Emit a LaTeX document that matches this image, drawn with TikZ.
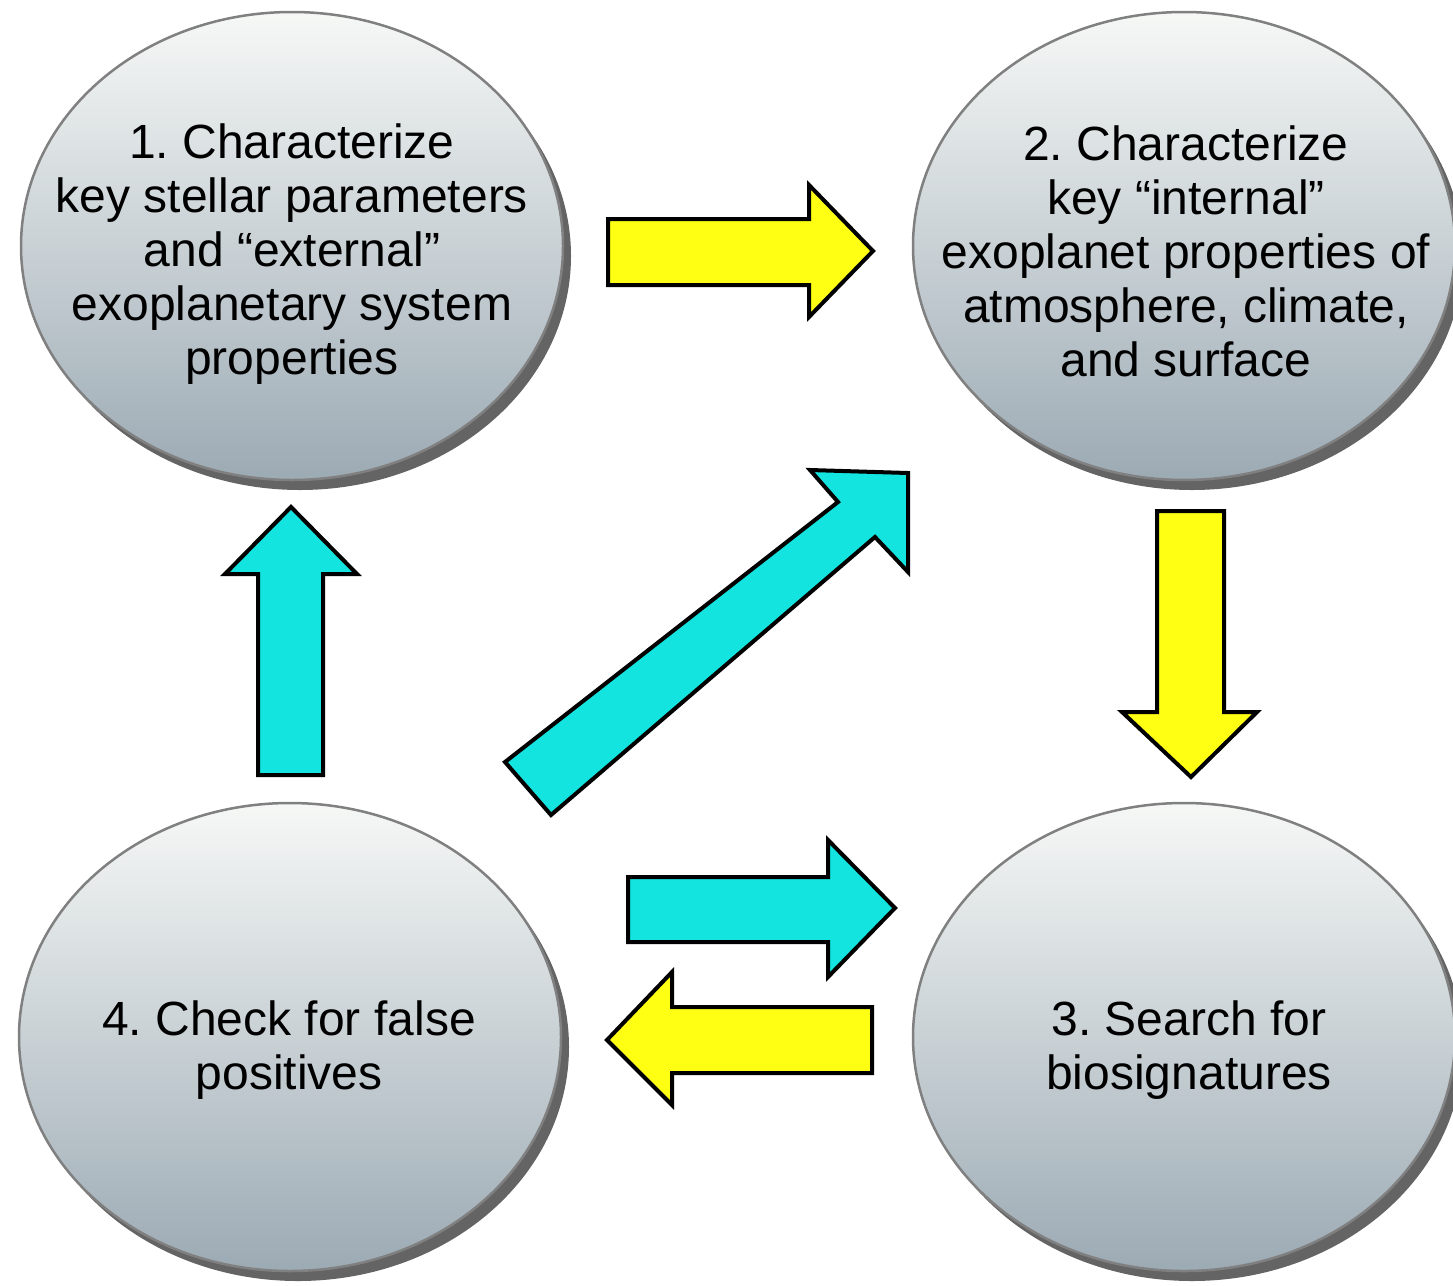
\documentclass[tikz,border=0pt]{standalone}
\usepackage{fontspec}
\setmainfont{Liberation Sans}
\usetikzlibrary{shapes.geometric,shadows}
\definecolor{ellTop}{RGB}{246,248,246}
\definecolor{ellBot}{RGB}{156,170,180}
\definecolor{ellEdge}{RGB}{128,128,128}
\definecolor{ellShadow}{RGB}{100,100,100}
\definecolor{arrYellow}{RGB}{255,255,20}
\definecolor{arrCyan}{RGB}{20,228,224}
\tikzset{
  stage/.style={ellipse, minimum width=542pt, minimum height=468pt, inner sep=0pt,
    top color=ellTop, bottom color=ellBot, draw=ellEdge, line width=2.5pt,
    drop shadow={shadow xshift=8pt, shadow yshift=-10pt, fill=ellShadow, opacity=1}},
  stagetext/.style={align=center, inner sep=0pt, font=\fontsize{48}{54}\selectfont},
  yblock/.style={fill=arrYellow, draw=black, line width=4pt, line join=miter},
  cblock/.style={fill=arrCyan, draw=black, line width=4pt, line join=miter}
}
\begin{document}
\frenchspacing
\begin{tikzpicture}[x=1pt,y=-1pt]
\useasboundingbox (0,0) rectangle (1453,1285);
\fill[white] (0,0) rectangle (1453,1285);

\node[stage] (s1) at (292,246) {};
\node[stage] (s2) at (1184,246) {};
\node[stage] (s3) at (1184,1037) {};
\node[stage] (s4) at (290,1037) {};

\node[stagetext] (t1) at (292,254) {1. Characterize\\key stellar parameters\\and “external”\\exoplanetary system\\properties};
\node[stagetext] (t2) at (1186,251) {2. Characterize\\key “internal”\\exoplanet properties of\\atmosphere, climate,\\and surface};
\node[stagetext] (t3) at (1189,1050) {3. Search for\\biosignatures};
\node[stagetext] (t4) at (289,1050) {4. Check for false\\positives};

% 1 -> 2 (yellow, right)
\draw[yblock] (608,219) -- (809,219) -- (809,185) -- (873,251) -- (809,317) -- (809,285) -- (608,285) -- cycle;
% 2 -> 3 (yellow, down)
\draw[yblock] (1157,511) -- (1224,511) -- (1224,712) -- (1257,712) -- (1191,777) -- (1122,712) -- (1157,712) -- cycle;
% 4 -> 1 (cyan, up)
\draw[cblock] (258,775) -- (258,574) -- (225,574) -- (291,507) -- (357,574) -- (323,574) -- (323,775) -- cycle;
% 4 -> 2 (cyan, diagonal)
\draw[cblock] (505,762) -- (838,502) -- (810,470) -- (908,473) -- (908,572) -- (875,537) -- (551,815) -- cycle;
% 4 -> 3 (cyan, right)
\draw[cblock] (628,877) -- (828,877) -- (828,840) -- (895,908) -- (828,977) -- (828,942) -- (628,942) -- cycle;
% 3 -> 4 (yellow, left)
\draw[yblock] (872,1007) -- (672,1007) -- (672,972) -- (607,1040) -- (672,1105) -- (672,1073) -- (872,1073) -- cycle;
\end{tikzpicture}
\end{document}
